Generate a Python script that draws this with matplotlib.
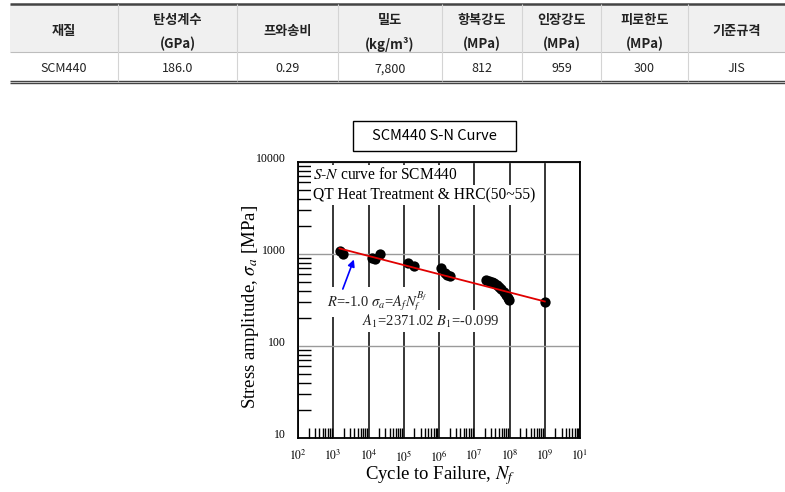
import matplotlib
matplotlib.use("Agg")
import matplotlib.pyplot as plt
import matplotlib.patches as mpatches
import matplotlib.transforms as mtransforms
import numpy as np
from matplotlib.ticker import FixedLocator, LogLocator, NullFormatter

plt.rcParams["mathtext.fontset"] = "stix"

KR = ["Noto Sans CJK KR", "DejaVu Sans"]
SERIF = ["Liberation Serif", "DejaVu Serif"]

# table data
header_top = ["재질", "탄성계수", "프와송비", "밀도", "항복강도", "인장강도", "피로한도", "기준규격"]
header_unit = ["", "(GPa)", "", "(kg/m³)", "(MPa)", "(MPa)", "(MPa)", ""]
row_values = ["SCM440", "186.0", "0.29", "7,800", "812", "959", "300", "JIS"]

# S-N test points
cycles = [1550, 1860, 12200, 15100, 21000, 133000, 193000,
          1.17e6, 1.45e6, 1.7e6, 2.05e6,
          2.2e7, 2.6e7, 3.1e7, 3.6e7, 4.3e7, 5.0e7, 5.9e7, 6.8e7, 7.8e7, 8.9e7, 9.5e7,
          1e9]
stress = [1087, 993, 898, 875, 1000, 792, 747,
          700, 617, 595, 575,
          521, 505, 492, 478, 460, 440, 413, 385, 358, 335, 316,
          299]

# Basquin fit
A_f = 2371.02
B_f = -0.099
fit_range = [1500, 1e9]

W, H = 785, 492
fig = plt.figure(figsize=(W / 100, H / 100), dpi=100)

canvas = fig.add_axes([0, 0, 1, 1])
canvas.set_xlim(0, W)
canvas.set_ylim(H, 0)
canvas.axis("off")

# --- table ---
col_edges = [10, 118, 237, 338, 442, 522, 601, 688, 785]
canvas.add_patch(mpatches.Rectangle((10, 4), 775, 48, facecolor="#f0f0f0", edgecolor="none"))
canvas.hlines(4, 10, 785, color="#444444", lw=1.8)
canvas.hlines(52, 10, 785, color="#bdbdbd", lw=0.8)
canvas.hlines([80.5, 82.5], 10, 785, color="#444444", lw=1.0)
canvas.vlines(col_edges[1:-1], 4, 80.5, color="#d4d4d4", lw=0.8)
for i in range(len(header_top)):
    cx = (col_edges[i] + col_edges[i + 1]) / 2
    if header_unit[i]:
        canvas.text(cx, 20, header_top[i], ha="center", va="center", family=KR,
                    fontsize=9.5, fontweight="bold", color="#222222")
        canvas.text(cx, 44, header_unit[i], ha="center", va="center", family=KR,
                    fontsize=9.5, fontweight="bold", color="#222222")
    else:
        canvas.text(cx, 31, header_top[i], ha="center", va="center", family=KR,
                    fontsize=9.5, fontweight="bold", color="#222222")
    canvas.text(cx, 69, row_values[i], ha="center", va="center", family=KR,
                fontsize=9, color="#222222")

# --- title box ---
canvas.add_patch(mpatches.Rectangle((353, 121), 163, 30, facecolor="white", edgecolor="black", lw=1.0))
canvas.text(434.5, 136, "SCM440 S-N Curve", ha="center", va="center", family=KR, fontsize=10.5)

# --- S-N chart ---
ax = fig.add_axes([298 / W, (H - 438) / H, (580 - 298) / W, (438 - 162) / H])
ax.set_xscale("log")
ax.set_yscale("log")
ax.set_xlim(1e2, 1e10)
ax.set_ylim(10, 1e4)

ax.grid(axis="x", which="major", color="black", lw=1.1)
ax.grid(axis="y", which="major", color="#9a9a9a", lw=1.0)
ax.set_axisbelow(True)

ax.scatter(cycles, stress, s=55, color="black", zorder=2, linewidths=0)
n_fit = np.array(fit_range)
ax.plot(n_fit, A_f * n_fit ** B_f, color="#e00000", lw=1.3, zorder=3)

ax.annotate("", xy=(4100, 930), xytext=(1750, 390),
            arrowprops=dict(arrowstyle="-|>", color="blue", lw=1.2, mutation_scale=10))

white = dict(facecolor="white", edgecolor="none", pad=1.5)
ax.text(0.053, 0.953, "$S$-$N$ curve for SCM440", transform=ax.transAxes,
        family=SERIF, fontsize=11.2, va="center", ha="left", bbox=white, zorder=4)
ax.text(0.053, 0.880, "QT Heat Treatment & HRC(50~55)", transform=ax.transAxes,
        family=SERIF, fontsize=11.2, va="center", ha="left", bbox=white, zorder=4)
ax.text(0.103, 0.493, r"$R$=-1.0 $\sigma_a$=$A_f N_f^{B_f}$", transform=ax.transAxes,
        family=SERIF, fontsize=10.5, va="center", ha="left", color="#222222",
        bbox=white, zorder=1.5)
ax.text(0.227, 0.424, r"$A_1$=2371.02 $B_1$=-0.099", transform=ax.transAxes,
        family=SERIF, fontsize=10.5, va="center", ha="left", color="#222222",
        bbox=white, zorder=1.5)

xticks = [10.0 ** k for k in range(2, 11)]
xlabels = ["$10^{%d}$" % k for k in range(2, 10)] + ["$10^{1}$"]
ax.xaxis.set_major_locator(FixedLocator(xticks))
ax.set_xticklabels(xlabels)
yticks = [10, 100, 1000, 10000]
ax.yaxis.set_major_locator(FixedLocator(yticks))
ax.set_yticklabels(["10", "100", "1000", "10000"])
for axis in (ax.xaxis, ax.yaxis):
    axis.set_minor_locator(LogLocator(base=10, subs=np.arange(2, 10), numticks=20))
    axis.set_minor_formatter(NullFormatter())

ax.tick_params(which="major", length=0)
ax.tick_params(axis="x", which="major", pad=8, labelsize=8.5)
ax.tick_params(axis="y", which="major", pad=9, labelsize=8.5)
ax.tick_params(axis="x", which="minor", direction="in", length=7, width=1.0, top=False)
ax.tick_params(axis="y", which="minor", direction="in", length=9, width=1.0, right=False)
for lab in ax.get_xticklabels() + ax.get_yticklabels():
    lab.set_family(SERIF)
shift = mtransforms.ScaledTranslation(0, 4.5 / 100, fig.dpi_scale_trans)
for lab in ax.get_yticklabels():
    lab.set_transform(lab.get_transform() + shift)

for sp in ax.spines.values():
    sp.set_linewidth(1.3)
    sp.set_zorder(5)

ax.set_xlabel("Cycle to Failure, $N_f$", family=SERIF, fontsize=13.5)
ax.xaxis.set_label_coords(0.503, -0.095)
ax.set_ylabel(r"Stress amplitude, $\sigma_a$ [MPa]", family=SERIF, fontsize=13.5)
ax.yaxis.set_label_coords(-0.13, 0.475)

fig.savefig("out.png", dpi=100)
